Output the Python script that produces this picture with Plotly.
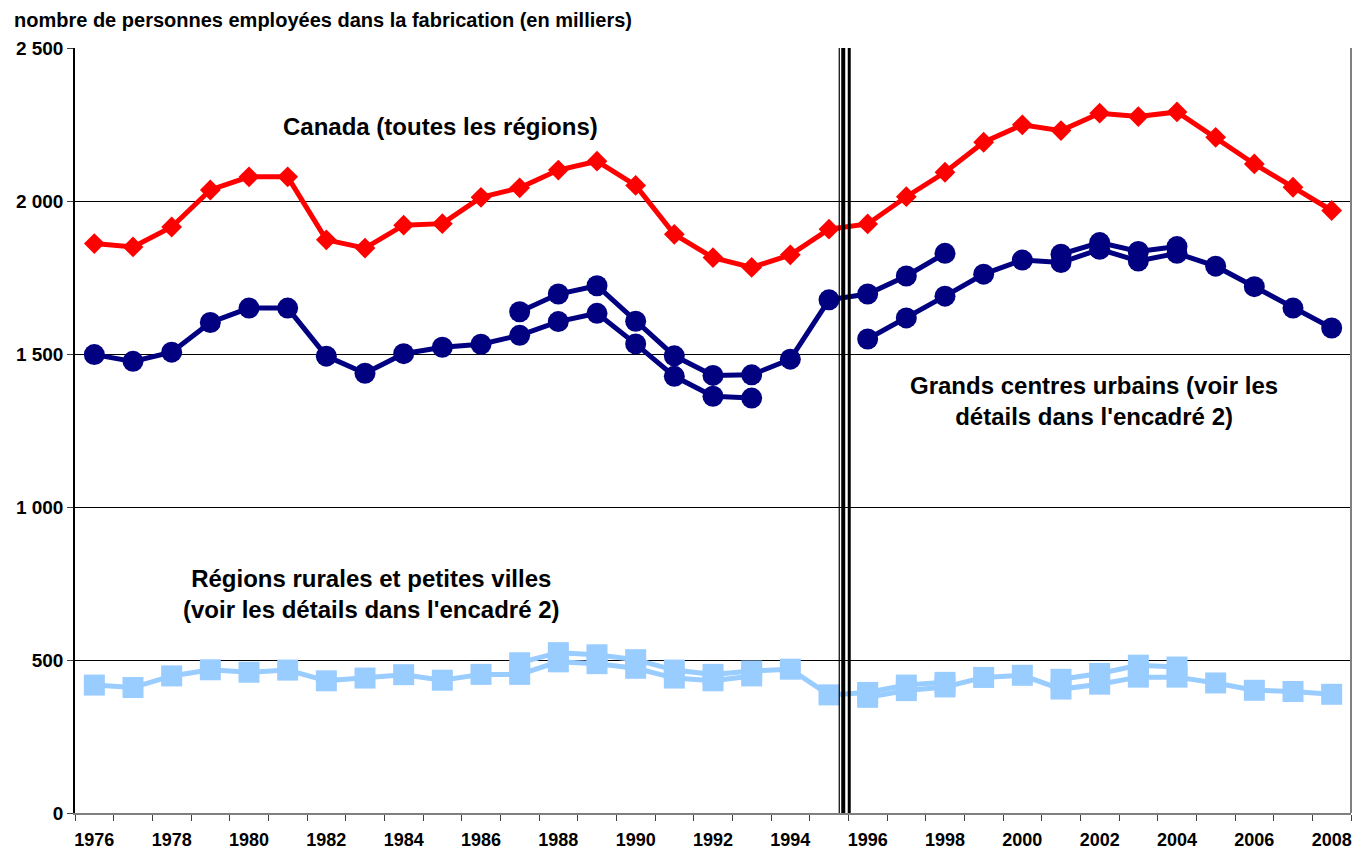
import plotly.graph_objects as go

# ---------------- data ----------------
years = list(range(1976, 2009))

canada = [1861, 1850, 1915, 2036, 2079, 2079, 1873, 1846, 1921, 1926, 2012,
          2043, 2101, 2130, 2051, 1891, 1815, 1783, 1824, 1908, 1925, 2014,
          2094, 2192, 2249, 2230, 2287, 2276, 2291, 2208, 2121, 2045, 1969]

urban_a_years = list(range(1976, 1994))
urban_a = [1498, 1476, 1506, 1603, 1650, 1650, 1493, 1437, 1501, 1522, 1532,
           1561, 1606, 1633, 1533, 1427, 1362, 1356]
urban_b_years = list(range(1987, 1999))
urban_b = [1638, 1696, 1723, 1607, 1494, 1430, 1432, 1483, 1677, 1696, 1755, 1829]
urban_c_years = list(range(1996, 2009))
urban_c = [1549, 1618, 1689, 1761, 1807, 1799, 1842, 1804, 1829, 1787, 1720, 1650, 1585]
urban_d_years = list(range(2001, 2005))
urban_d = [1826, 1864, 1835, 1851]

rural_a_years = list(range(1976, 1994))
rural_a = [418, 410, 448, 468, 460, 467, 432, 441, 452, 434, 453,
           453, 494, 488, 473, 441, 432, 448]
rural_b_years = list(range(1987, 1999))
rural_b = [491, 524, 517, 501, 467, 453, 464, 470, 386, 394, 418, 427]
rural_c_years = list(range(1996, 2009))
rural_c = [378, 400, 412, 443, 450, 405, 421, 444, 444, 425, 401, 397, 388]
rural_d_years = list(range(2001, 2005))
rural_d = [437, 456, 483, 477]

y_tickvals = [0, 500, 1000, 1500, 2000, 2500]
y_ticktext = ["0", "500", "1 000", "1 500", "2 000", "2 500"]
x_label_years = list(range(1976, 2009, 2))
break_year = 1995.42

title_text = "nombre de personnes employées dans la fabrication (en milliers)"
label_canada = "Canada (toutes les régions)"
label_urban = ["Grands centres urbains (voir les", "détails dans l'encadré 2)"]
label_rural = ["Régions rurales et petites villes", "(voir les détails dans l'encadré 2)"]

# ---------------- styles ----------------
RED = "#FF0000"
NAVY = "#000080"
LIGHT = "#99CCFF"
FONT = "Liberation Sans, Arial, sans-serif"

fig = go.Figure()

def add(xs, ys, color, symbol, size):
    fig.add_trace(go.Scatter(
        x=xs, y=ys, mode="lines+markers",
        line=dict(color=color, width=5),
        marker=dict(color=color, symbol=symbol, size=size, line=dict(width=0)),
        showlegend=False, hoverinfo="x+y"))

for xs, ys in [(rural_a_years, rural_a), (rural_b_years, rural_b),
               (rural_c_years, rural_c), (rural_d_years, rural_d)]:
    add(xs, ys, LIGHT, "square", 21)
for xs, ys in [(urban_a_years, urban_a), (urban_b_years, urban_b),
               (urban_c_years, urban_c), (urban_d_years, urban_d)]:
    add(xs, ys, NAVY, "circle", 21)
add(years, canada, RED, "diamond", 16)

# break line (three parallel black strokes)
px = 1.0 / 38.7
for off, w in [(-6 * px, 1.2), (-2 * px, 4), (4 * px, 3)]:
    fig.add_shape(type="line", xref="x", yref="y",
                  x0=break_year + off, x1=break_year + off, y0=0, y1=2500,
                  line=dict(color="black", width=w), layer="above")

def bold_lines(lines):
    return "<br>".join("<b>%s</b>" % s for s in lines)

ann_font = dict(family=FONT, size=24, color="black")
fig.add_annotation(x=1984.95, y=2243, xref="x", yref="y", text=bold_lines([label_canada]),
                   showarrow=False, font=ann_font, align="center")
fig.add_annotation(x=2001.85, y=1348, xref="x", yref="y", text=bold_lines(label_urban),
                   showarrow=False, font=ann_font, align="center")
fig.add_annotation(x=1983.18, y=716, xref="x", yref="y", text=bold_lines(label_rural),
                   showarrow=False, font=ann_font, align="center")
fig.add_annotation(x=0, y=1, xref="paper", yref="paper", xanchor="left", yanchor="middle",
                   xshift=-63, yshift=28,
                   text="<b>" + title_text + "</b>", showarrow=False,
                   font=dict(family=FONT, size=20, color="black"))

fig.update_layout(
    width=1354, height=852,
    margin=dict(l=75, r=2, t=48, b=36, pad=0),
    paper_bgcolor="white", plot_bgcolor="white",
    font=dict(family=FONT, size=16, color="black"),
    xaxis=dict(
        range=[1975.5, 2008.5],
        tickvals=x_label_years,
        ticktext=["<b>%d</b>" % y for y in x_label_years],
        ticks="outside", ticklen=9, tickcolor="rgba(0,0,0,0)",
        tickfont=dict(family=FONT, size=18, color="black"),
        showgrid=False, zeroline=False,
        showline=True, linecolor="#808080", linewidth=2,
        minor=dict(tickvals=[y - 0.5 for y in years] + [2008.5], ticks="outside",
                   ticklen=6, tickcolor="#404040", tickwidth=1, showgrid=False),
    ),
    yaxis=dict(
        range=[0, 2500],
        tickvals=y_tickvals,
        ticktext=["<b>%s</b>" % t for t in y_ticktext],
        ticks="outside", ticklen=6, tickcolor="#404040",
        tickfont=dict(family=FONT, size=19, color="black"),
        showgrid=True, gridcolor="black", gridwidth=1,
        zeroline=False,
        showline=True, linecolor="black", linewidth=1.5, mirror=False,
    ),
)

# right border
fig.add_shape(type="line", xref="paper", yref="paper", x0=1, x1=1, y0=0, y1=1,
              line=dict(color="#808080", width=2))

fig.write_html("out.html",
               config={"displayModeBar": False},
               post_script="document.body.style.margin='0px';document.body.style.padding='0px';")
